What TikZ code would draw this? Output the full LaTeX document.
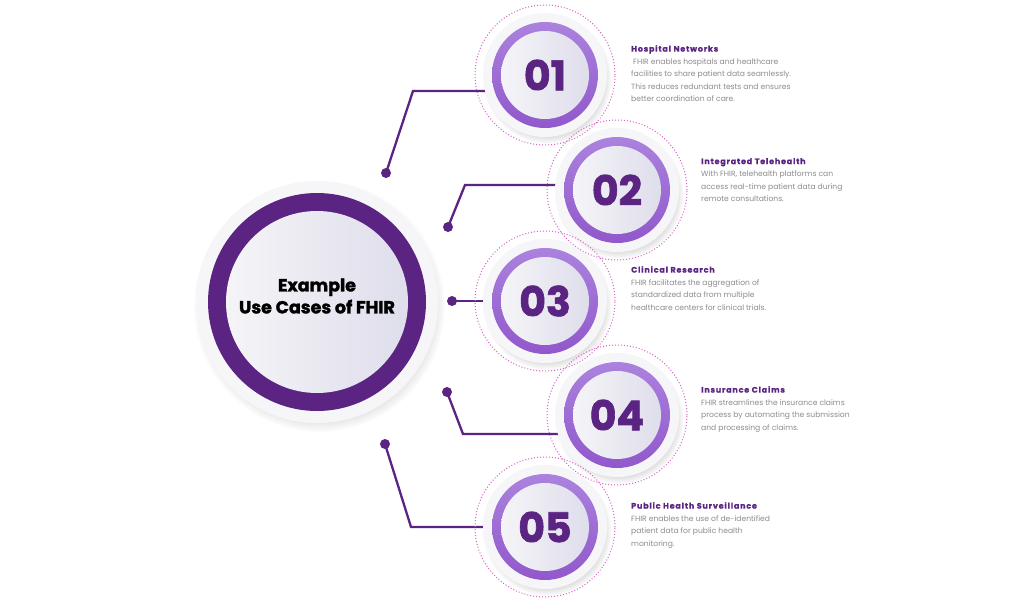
\documentclass[tikz,border=0pt]{standalone}
\usepackage{fontspec}
\setmainfont{Poppins}
\newfontfamily\headfont{Poppins}[LetterSpace=10,BoldFeatures={FakeBold=0.6}]
\newfontfamily\numfont{Poppins}[BoldFeatures={FakeBold=1.6}]
\usetikzlibrary{shadows,fadings,backgrounds}

\definecolor{deep}{HTML}{5B2483}
\definecolor{ringtop}{HTML}{AB82DE}
\definecolor{ringbot}{HTML}{9158CB}
\definecolor{disc1}{HTML}{F7F7F9}
\definecolor{disc2}{HTML}{DCDBEA}
\definecolor{backdrop}{HTML}{F6F6F8}
\definecolor{pinkdot}{HTML}{D663C2}
\definecolor{bodygray}{HTML}{8C8C8C}

\newcommand{\headline}[1]{{\headfont\bfseries\fontsize{8}{12.5}\selectfont\color{deep}#1}}

\begin{document}
\begin{tikzpicture}[x=1pt,y=-1pt,
		numdisc/.style={circle,minimum size=106pt,inner sep=0pt,top color=ringtop,bottom color=ringbot,
			path picture={\shade[left color=disc1,right color=disc2] (path picture bounding box.center) circle (44pt);},
			font=\numfont\bfseries\fontsize{41}{41}\selectfont,text=deep},
		maindisc/.style={circle,minimum size=218pt,inner sep=0pt,fill=deep,
			path picture={\shade[left color=disc1,right color=disc2] (path picture bounding box.center) circle (91pt);}},
		backplate/.style={fill=backdrop,circular drop shadow={shadow xshift=2pt,shadow yshift=-4pt,shadow scale=1.04,opacity=0.4,fill=gray!80}},
		pinkring/.style={draw=pinkdot,line width=1pt,dotted},
		link/.style={draw=deep,line width=2.3pt},
		dot/.style={circle,fill=deep,inner sep=0pt,minimum size=10pt},
		info/.style={anchor=north west,inner sep=0pt,align=left,font=\fontsize{7.6}{12.5}\selectfont,text=bodygray}]
		\useasboundingbox (0,0) rectangle (1024,597);
		
		% central disc
		\node[maindisc] (main) at (317,302) {};
		\node[font=\numfont\bfseries\fontsize{17.5}{22}\selectfont,align=center,text=black] (maintext) at ([yshift=6pt]main.center) {Example\\Use Cases of FHIR};
		
		% numbered discs
		\node[numdisc] (n1) at (545,75) {01};
		\node[numdisc] (n2) at (617,190) {02};
		\node[numdisc] (n3) at (545,301) {03};
		\node[numdisc] (n4) at (617,415) {04};
		\node[numdisc] (n5) at (545,527) {05};
		
		\draw[pinkring] (n1) circle (70pt);
		\draw[pinkring] (n2) circle (70pt);
		\draw[pinkring] (n3) circle (70pt);
		\draw[pinkring] (n4) circle (70pt);
		\draw[pinkring] (n5) circle (70pt);
		
		% dots and bends
		\node[dot] (d1) at (386,173) {};
		\node[dot] (d2) at (448,227) {};
		\node[dot] (d3) at (452,301) {};
		\node[dot] (d4) at (447,392) {};
		\node[dot] (d5) at (385,444) {};
		\coordinate (k1) at (413,91);
		\coordinate (k2) at (465,185);
		\coordinate (k4) at (463,434);
		\coordinate (k5) at (411,527);
		
		\begin{pgfonlayer}{background}
			\fill[white] (0,0) rectangle (1024,597);
			\draw[link] (d1.center) -- (k1) -- (k1 -| n1.center);
			\draw[link] (d2.center) -- (k2) -- (k2 -| n2.center);
			\draw[link] (d3.center) -- (n3.center);
			\draw[link] (d4.center) -- (k4) -- (k4 -| n4.center);
			\draw[link] (d5.center) -- (k5) -- (k5 -| n5.center);
			
			\fill[backplate] (main) circle (121pt);
			\fill[backplate] (n1) circle (62pt);
			\fill[backplate] (n2) circle (62pt);
			\fill[backplate] (n3) circle (62pt);
			\fill[backplate] (n4) circle (62pt);
			\fill[backplate] (n5) circle (62pt);
		\end{pgfonlayer}
		
		% texts
		\node[info] (t1) at (631,45) {\headline{Hospital Networks}\\
			\ FHIR enables hospitals and healthcare\\
			facilities to share patient data seamlessly.\\
			This reduces redundant tests and ensures\\
			better coordination of care.};
		\node[info] (t2) at (701,158) {\headline{Integrated Telehealth}\\
			With FHIR, telehealth platforms can\\
			access real-time patient data during\\
			remote consultations.};
		\node[info] (t3) at (631,266) {\headline{Clinical Research}\\
			FHIR facilitates the aggregation of\\
			standardized data from multiple\\
			healthcare centers for clinical trials.};
		\node[info] (t4) at (701,386) {\headline{Insurance Claims}\\
			FHIR streamlines the insurance claims\\
			process by automating the submission\\
			and processing of claims.};
		\node[info] (t5) at (631,502) {\headline{Public Health Surveillance}\\
			FHIR enables the use of de-identified\\
			patient data for public health\\
			monitoring.};
	\end{tikzpicture}
\end{document}
